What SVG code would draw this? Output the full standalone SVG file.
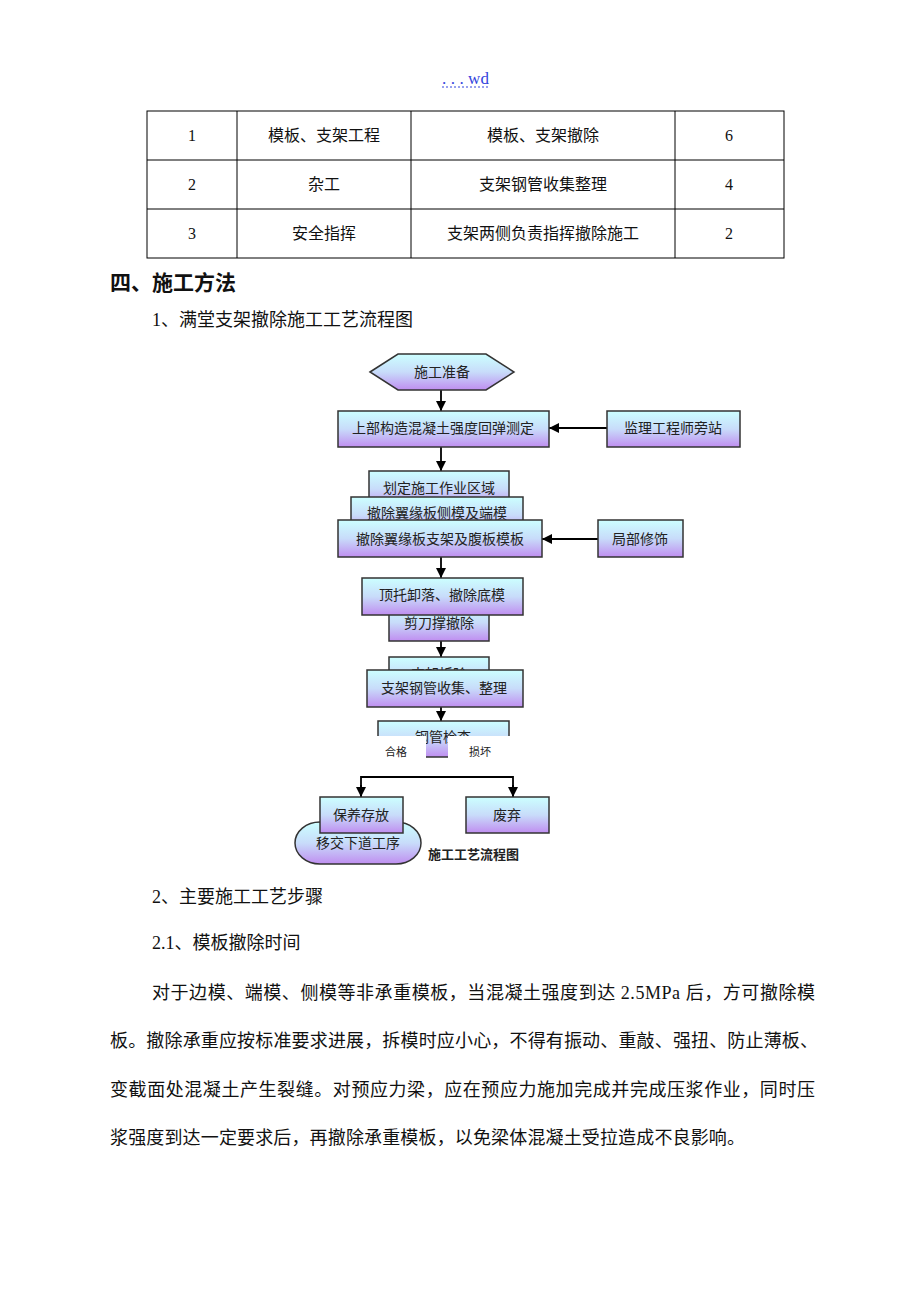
<svg xmlns="http://www.w3.org/2000/svg" width="920" height="1302" viewBox="0 0 920 1302">
<defs>
<linearGradient id="g" x1="0" y1="0" x2="0" y2="1">
<stop offset="0" stop-color="#ccffff"/>
<stop offset="0.5" stop-color="#c8dcfa"/>
<stop offset="1" stop-color="#bf8ef0"/>
</linearGradient>
<marker id="ah" viewBox="0 0 10 10" refX="10" refY="5" markerWidth="10" markerHeight="10" markerUnits="userSpaceOnUse" orient="auto">
<path d="M0,0 L10,5 L0,10 z" fill="#000"/>
</marker>
<style>
.doc{font-family:"Liberation Serif","Noto Sans CJK SC",serif;fill:#111}
.t16{font-size:16px}
.t18{font-size:18px}
.box{fill:url(#g);stroke:#333;stroke-width:1.5}
.bt{font-family:"Liberation Serif","Noto Sans CJK SC",serif;font-size:14px;fill:#222;text-anchor:middle}
.tl{stroke:#000;stroke-width:1;fill:none}
.cn{stroke:#000;stroke-width:1.8;fill:none}
.ca{marker-end:url(#ah)}
.small{font-family:"Liberation Serif","Noto Sans CJK SC",serif;font-size:11px;fill:#222}
</style>
</defs>
<rect width="920" height="1302" fill="#fff"/>

<g id="header">
<text x="442" y="84" font-family="Liberation Serif, serif" font-size="17" fill="#3344dd" textLength="47" lengthAdjust="spacing">. . . wd</text>
<line x1="442" y1="87" x2="489" y2="87" stroke="#3344dd" stroke-width="1" stroke-dasharray="2,2"/>
</g>

<g id="table">
<rect x="147" y="111" width="637" height="147" class="tl"/>
<line x1="147" y1="160" x2="784" y2="160" class="tl"/>
<line x1="147" y1="209" x2="784" y2="209" class="tl"/>
<line x1="237" y1="111" x2="237" y2="258" class="tl"/>
<line x1="411" y1="111" x2="411" y2="258" class="tl"/>
<line x1="675" y1="111" x2="675" y2="258" class="tl"/>
<g class="doc t16" text-anchor="middle">
<text x="192" y="141">1</text>
<text x="324" y="141">模板、支架工程</text>
<text x="543" y="141">模板、支架撤除</text>
<text x="729" y="141">6</text>
<text x="192" y="190">2</text>
<text x="324" y="190">杂工</text>
<text x="543" y="190">支架钢管收集整理</text>
<text x="729" y="190">4</text>
<text x="192" y="239">3</text>
<text x="324" y="239">安全指挥</text>
<text x="543" y="239">支架两侧负责指挥撤除施工</text>
<text x="729" y="239">2</text>
</g>
</g>

<g id="headings" class="doc">
<text x="110" y="290" font-size="21" font-weight="bold">四、施工方法</text>
<text x="152" y="326" class="t18" font-size="17.5">1、满堂支架撤除施工工艺流程图</text>
</g>

<g id="connectors">
<line x1="441" y1="390" x2="441" y2="411" class="cn ca"/>
<line x1="607" y1="428" x2="549" y2="428" class="cn ca"/>
<line x1="441" y1="447" x2="441" y2="471" class="cn ca"/>
<line x1="598" y1="539" x2="542" y2="539" class="cn ca"/>
<line x1="441" y1="557" x2="441" y2="578" class="cn ca"/>
<line x1="441" y1="641" x2="441" y2="657" class="cn ca"/>
<line x1="441" y1="707" x2="441" y2="721" class="cn ca"/>
<polyline points="361,797 361,777 513,777 513,797" class="cn"/>
<line x1="361" y1="785" x2="361" y2="797" class="cn ca"/>
<line x1="513" y1="785" x2="513" y2="797" class="cn ca"/>
</g>

<g id="n-start">
<polygon points="370,372 398,354 486,354 514,372 486,390 398,390" class="box"/>
<text x="442" y="377" class="bt">施工准备</text>
</g>
<g id="n-test">
<rect x="338" y="411" width="211" height="36" class="box"/>
<text x="443" y="433" class="bt">上部构造混凝土强度回弹测定</text>
</g>
<g id="n-supervisor">
<rect x="607" y="411" width="133" height="36" class="box"/>
<text x="673" y="433" class="bt">监理工程师旁站</text>
</g>
<g id="n-zone">
<rect x="369" y="471" width="140" height="36" class="box"/>
<text x="439" y="493" class="bt">划定施工作业区域</text>
</g>
<g id="n-sideform">
<rect x="351" y="497" width="172" height="36" class="box"/>
<text x="437" y="518" class="bt">撤除翼缘板侧模及端模</text>
</g>
<g id="n-webform">
<rect x="338" y="520" width="204" height="37" class="box"/>
<text x="440" y="544" class="bt">撤除翼缘板支架及腹板模板</text>
</g>
<g id="n-repair">
<rect x="598" y="520" width="85" height="37" class="box"/>
<text x="640" y="544" class="bt">局部修饰</text>
</g>
<g id="n-scissor">
<rect x="389" y="604" width="100" height="37" class="box"/>
<text x="439" y="628" class="bt">剪刀撑撤除</text>
</g>
<g id="n-bottomform">
<rect x="362" y="578" width="161" height="37" class="box"/>
<text x="442" y="600" class="bt">顶托卸落、撤除底模</text>
</g>
<g id="n-dismantle">
<rect x="389" y="657" width="100" height="37" class="box"/>
<text x="439" y="679" class="bt">支架拆除</text>
</g>
<g id="n-collect">
<rect x="367" y="670" width="156" height="37" class="box"/>
<text x="444" y="693" class="bt">支架钢管收集、整理</text>
</g>
<g id="n-check">
<rect x="378" y="721" width="131" height="36" class="box"/>
<text x="443" y="742" class="bt">钢管检查</text>
<rect x="375" y="736" width="51" height="26" fill="#fff"/>
<rect x="448" y="736" width="64" height="26" fill="#fff"/>
<text x="385" y="756" class="small">合格</text>
<text x="469" y="756" class="small">损坏</text>
</g>
<g id="n-handover">
<rect x="295" y="822" width="126" height="42" rx="25" ry="21" class="box"/>
<text x="358" y="848" class="bt">移交下道工序</text>
</g>
<g id="n-store">
<rect x="320" y="797" width="83" height="36" class="box"/>
<text x="361" y="820" class="bt">保养存放</text>
</g>
<g id="n-discard">
<rect x="466" y="797" width="83" height="36" class="box"/>
<text x="507" y="820" class="bt">废弃</text>
</g>
<g id="caption">
<text x="428" y="859" font-family="Noto Sans CJK SC, sans-serif" font-size="13" font-weight="bold" fill="#222">施工工艺流程图</text>
</g>

<g id="body" class="doc t18">
<text x="152" y="903">2、主要施工工艺步骤</text>
<text x="152" y="949">2.1、模板撤除时间</text>
<text x="152" y="999" textLength="663" lengthAdjust="spacing">对于边模、端模、侧模等非承重模板，当混凝土强度到达 2.5MPa 后，方可撤除模</text>
<text x="110" y="1047" textLength="708" lengthAdjust="spacing">板。撤除承重应按标准要求进展，拆模时应小心，不得有振动、重敲、强扭、防止薄板、</text>
<text x="110" y="1096" textLength="705" lengthAdjust="spacing">变截面处混凝土产生裂缝。对预应力梁，应在预应力施加完成并完成压浆作业，同时压</text>
<text x="110" y="1144" textLength="635" lengthAdjust="spacing">浆强度到达一定要求后，再撤除承重模板，以免梁体混凝土受拉造成不良影响。</text>
</g>
</svg>
